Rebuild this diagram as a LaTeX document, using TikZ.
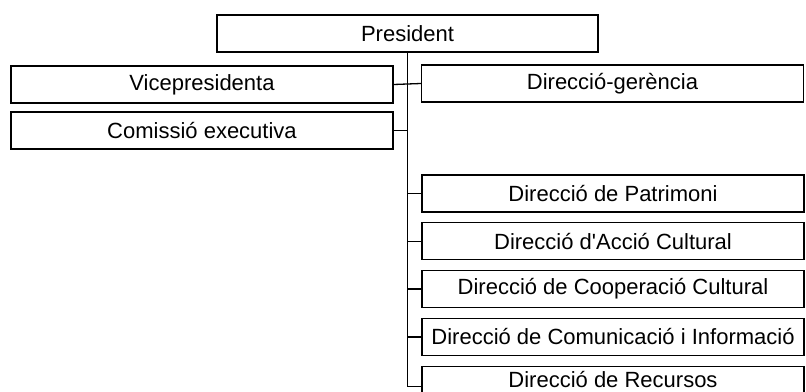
\documentclass[tikz,border=0pt]{standalone}
\usepackage{fontspec}
\setmainfont{Liberation Sans}
\usetikzlibrary{positioning,calc}

\begin{document}
\begin{tikzpicture}[x=1pt, y=-1pt,
  unit/.style={draw=black, line width=1.3pt, minimum height=37pt,
    inner sep=0pt, font=\fontsize{22}{26}\selectfont},
  wide/.style={unit, minimum width=382pt},
  link/.style={line width=1.3pt, black}]

% page frame
\useasboundingbox (0,0) rectangle (806,391);
\clip (0,0) rectangle (806,391);

% ================= TOP =================
\node[unit, minimum width=381pt] (pres) at (407.5,33.5) {President};

% ================= LEFT COLUMN =================
\node[wide] (vice) at (202,84.5) {Vicepresidenta};
\node[wide] (comissio) at (202,130.5) {Comissió executiva};

% ================= RIGHT COLUMN =================
\node[wide] (gerencia) at (612.5,83.5) {Direcció-gerència};

\node[wide] (patrimoni) at (613,193.5) {Direcció de Patrimoni};
\node[wide, below=9.5pt of patrimoni] (accio) {Direcció d\textquotesingle Acció Cultural};
\node[wide, below=9.5pt of accio] (cooperacio) {Direcció de Cooperació Cultural};
\node[wide, below=9.5pt of cooperacio] (comunicacio) {Direcció de Comunicació i Informació};
\node[wide, below=9.5pt of comunicacio, text depth=11pt] (recursos) {Direcció de Recursos};

% ================= CONNECTORS =================
\draw[link] (pres.south) |- ([yshift=-1.5pt]recursos.west);
\draw[link] (vice.east) -- (gerencia.west);
\draw[link] (comissio.east) -- (comissio.east -| pres.south);
\foreach \d in {patrimoni,accio,cooperacio,comunicacio}
  \draw[link] (\d.west) -- (\d.west -| pres.south);

\end{tikzpicture}
\end{document}
